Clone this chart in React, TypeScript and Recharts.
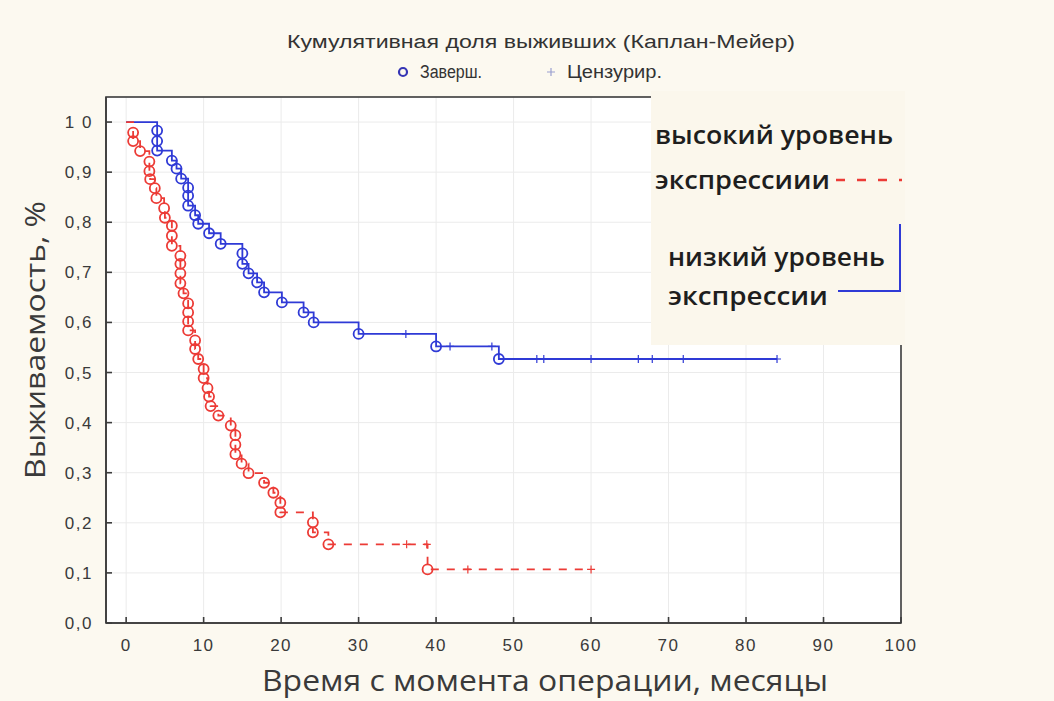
import { ComposedChart, Line, Scatter, XAxis, YAxis, CartesianGrid } from "recharts"

// months / cumulative survival
const xTicks = [0, 10, 20, 30, 40, 50, 60, 70, 80, 90, 100]
const yTicks = [0, 0.1, 0.2, 0.3, 0.4, 0.5, 0.6, 0.7, 0.8, 0.9, 1]

// низкий уровень экспрессии (blue)
const lowEventTimes = [4, 4, 4, 5.9, 6.5, 7.1, 8, 8, 8, 8.9, 9.3, 10.7, 12.2, 15, 15, 15.8, 16.9, 17.8, 20.1, 22.9, 24.2, 30, 40, 48.1]
const lowEventSurv = [0.983, 0.962, 0.943, 0.923, 0.907, 0.887, 0.869, 0.853, 0.833, 0.814, 0.797, 0.778, 0.757, 0.738, 0.717, 0.698, 0.68, 0.66, 0.64, 0.62, 0.6, 0.577, 0.552, 0.527]
const lowCensorTimes = [36.1, 41.8, 47.2, 53, 53.9, 60, 66.1, 67.9, 71.9, 84]

// высокий уровень экспрессии (red)
const highEventTimes = [0.9, 0.9, 1.8, 3, 3, 3.1, 3.7, 3.9, 4.9, 5, 5.9, 5.9, 5.9, 7, 7, 7, 7, 7.4, 8, 8, 8, 8, 8.9, 8.9, 9.3, 10, 10, 10.5, 10.7, 10.9, 11.9, 13.5, 14.1, 14.1, 14.1, 14.9, 15.8, 17.8, 19, 19.9, 19.9, 24.1, 24.1, 26.1, 38.9]
const highEventSurv = [0.979, 0.962, 0.942, 0.921, 0.902, 0.886, 0.868, 0.848, 0.828, 0.809, 0.793, 0.773, 0.753, 0.733, 0.717, 0.698, 0.678, 0.658, 0.638, 0.62, 0.602, 0.584, 0.564, 0.547, 0.527, 0.507, 0.489, 0.469, 0.452, 0.433, 0.414, 0.394, 0.375, 0.356, 0.337, 0.318, 0.299, 0.28, 0.26, 0.24, 0.221, 0.201, 0.181, 0.157, 0.107]
const highCensorTimes = [36.2, 38.8, 44.1, 60]

const BLUE = "#2f3ad6"
const RED = "#ec3b36"
const FRAME = "#3c3c3c"

type Pt = { t: number; s: number }

function survivalAt(times: number[], surv: number[], t: number) {
	let s = 1
	times.forEach((et, i) => {
		if (et <= t) s = surv[i]
	})
	return s
}

function stepLine(times: number[], surv: number[], end: number): Pt[] {
	const pts: Pt[] = [{ t: 0, s: 1 }]
	times.forEach((t, i) => pts.push({ t, s: surv[i] }))
	pts.push({ t: end, s: survivalAt(times, surv, end) })
	return pts
}

const lowLine = stepLine(lowEventTimes, lowEventSurv, lowCensorTimes[lowCensorTimes.length - 1])
const highLine = stepLine(highEventTimes, highEventSurv, highCensorTimes[highCensorTimes.length - 1])
const lowEvents = lowEventTimes.map((t, i) => ({ t, s: lowEventSurv[i] }))
const highEvents = highEventTimes.map((t, i) => ({ t, s: highEventSurv[i] }))
const lowCensored = lowCensorTimes.map((t) => ({ t, s: survivalAt(lowEventTimes, lowEventSurv, t) }))
const highCensored = highCensorTimes.map((t) => ({ t, s: survivalAt(highEventTimes, highEventSurv, t) }))

const ring = (color: string) => (p: any) =>
	p.cx == null ? <g /> : <circle cx={p.cx} cy={p.cy} r={5} fill="none" stroke={color} strokeWidth={1.8} />

const plus = (color: string) => (p: any) =>
	p.cx == null ? <g /> : <path d={`M${p.cx - 4},${p.cy}h8M${p.cx},${p.cy - 4}v8`} stroke={color} strokeWidth={1.2} fill="none" />

const tickFont = { fontSize: 17, fill: "#3a3a3a", fontFamily: "Liberation Sans, Arial, sans-serif", letterSpacing: 1.5 }
const frame = { stroke: FRAME, strokeWidth: 1.6 }

function fmtY(v: number) {
	if (v === 1) return "1 0"
	return v.toFixed(1).replace(".", ",")
}

export default function App() {
	return (
		<div style={{ position: "absolute", left: 0, top: 0, width: 1054, height: 701, background: "#fcf9f0", overflow: "hidden" }}>
			<div style={{ position: "absolute", left: 106, top: 97, width: 795, height: 526, background: "#ffffff" }} />
			<div style={{ position: "absolute", left: 0, top: 0 }}>
				<ComposedChart width={1054} height={701} margin={{ top: 97, right: 153, bottom: 38, left: 46 }}>
					<CartesianGrid stroke="#ebebeb" />
					<XAxis dataKey="t" type="number" domain={[-2.6, 100]} ticks={xTicks} allowDataOverflow height={40} stroke={FRAME} axisLine={frame} tickLine={frame} tickSize={-6} tickMargin={22} tick={tickFont} />
					<XAxis xAxisId="top" orientation="top" type="number" domain={[-2.6, 100]} ticks={xTicks} allowDataOverflow height={0} stroke={FRAME} axisLine={frame} tickLine={frame} tickSize={-6} tick={false} />
					<YAxis dataKey="s" type="number" domain={[0, 1.05]} ticks={yTicks} allowDataOverflow width={60} stroke={FRAME} axisLine={frame} tickLine={frame} tickSize={-6} tickMargin={19} tick={tickFont} tickFormatter={fmtY} />
					<YAxis yAxisId="right" orientation="right" type="number" domain={[0, 1.05]} ticks={yTicks} allowDataOverflow width={0} stroke={FRAME} axisLine={frame} tickLine={frame} tickSize={-6} tick={false} />
					<Line data={lowLine} dataKey="s" type="stepAfter" stroke={BLUE} strokeWidth={1.8} dot={false} isAnimationActive={false} />
					<Scatter data={lowEvents} dataKey="s" shape={ring(BLUE)} isAnimationActive={false} />
					<Scatter data={lowCensored} dataKey="s" shape={plus(BLUE)} isAnimationActive={false} />
					<Line data={highLine} dataKey="s" type="stepAfter" stroke={RED} strokeWidth={1.8} strokeDasharray="8 8" dot={false} isAnimationActive={false} />
					<Scatter data={highEvents} dataKey="s" shape={ring(RED)} isAnimationActive={false} />
					<Scatter data={highCensored} dataKey="s" shape={plus(RED)} isAnimationActive={false} />
				</ComposedChart>
			</div>
			<svg width={1054} height={701} style={{ position: "absolute", left: 0, top: 0, pointerEvents: "none" }}>
				<rect x={106} y={97} width={795} height={526} fill="none" stroke={FRAME} strokeWidth={1.6} />
				<g fontFamily="Liberation Sans, Arial, sans-serif" fontSize={18} fill="#333">
					<text x={287} y={48} textLength={508} lengthAdjust="spacingAndGlyphs">Кумулятивная доля выживших (Каплан-Мейер)</text>
					<circle cx={403} cy={72} r={4} fill="none" stroke="#3535b5" strokeWidth={2.2} />
					<text x={420} y={78} textLength={62} lengthAdjust="spacingAndGlyphs">Заверш.</text>
					<path d="M547,72h8M551,68v8" stroke="#9aa0d0" strokeWidth={1.2} />
					<text x={567} y={78} textLength={95} lengthAdjust="spacingAndGlyphs">Цензурир.</text>
				</g>
				<text x={0} y={0} transform="translate(45,340) rotate(-90)" textAnchor="middle" fontFamily="Open Sans, sans-serif" fontSize={28} fill="#3a3a3a" textLength={278} lengthAdjust="spacingAndGlyphs">
					Выживаемость, %
				</text>
				<text x={262} y={691} fontFamily="Open Sans, sans-serif" fontSize={29} fill="#3a3a3a" textLength={566} lengthAdjust="spacingAndGlyphs">
					Время с момента операции, месяцы
				</text>
				<rect x={651} y={91} width={254} height={254} fill="#fbf7ec" />
				<g fontFamily="Open Sans, sans-serif" fontSize={26} fontWeight={600} fill="#1e1e1e">
					<text x={655} y={144} textLength={238} lengthAdjust="spacingAndGlyphs">высокий уровень</text>
					<text x={655} y={189} textLength={175} lengthAdjust="spacingAndGlyphs">экспрессиии</text>
					<text x={668} y={266} textLength={217} lengthAdjust="spacingAndGlyphs">низкий уровень</text>
					<text x={668} y={305} textLength={160} lengthAdjust="spacingAndGlyphs">экспрессии</text>
				</g>
				<path d="M836,180H902" stroke={RED} strokeWidth={2.5} strokeDasharray="9 12" />
				<path d="M838,291H900V224" stroke={BLUE} strokeWidth={2} fill="none" />
			</svg>
		</div>
	)
}
